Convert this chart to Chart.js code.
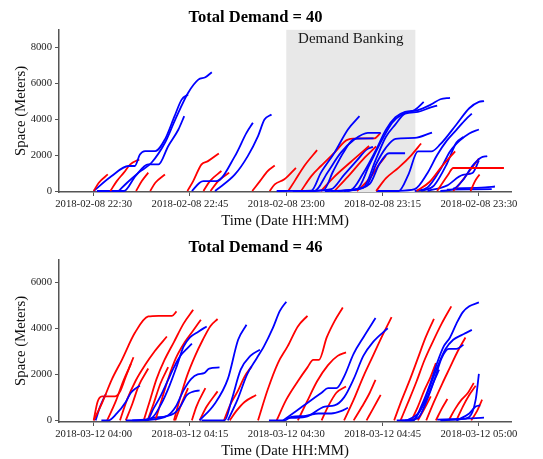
<!DOCTYPE html>
<html>
<head>
<meta charset="utf-8">
<script src="https://cdn.jsdelivr.net/npm/chart.js@4.4.1/dist/chart.umd.min.js"></script>
<style>
  html, body { margin: 0; padding: 0; background: #fff; }
  #wrap { position: relative; width: 543px; height: 459px; overflow: hidden; }
  canvas { position: absolute; left: 0; }
  #topChart { top: 0; }
  #botChart { top: 230px; }
</style>
</head>
<body>
<div id="wrap">
  <canvas id="topChart" width="543" height="229"></canvas>
  <canvas id="botChart" width="543" height="229"></canvas>
</div>
<script>
// ─── DATA ─────────────────────────────────────────────────────────────────────
// x = minutes after first tick, y = space in meters
const xTickValues = [0, 15, 30, 45, 60];
const topTickLabels = ['2018-02-08 22:30', '2018-02-08 22:45', '2018-02-08 23:00', '2018-02-08 23:15', '2018-02-08 23:30'];
const botTickLabels = ['2018-03-12 04:00', '2018-03-12 04:15', '2018-03-12 04:30', '2018-03-12 04:45', '2018-03-12 05:00'];
const topYTicks = [0, 2000, 4000, 6000, 8000];
const botYTicks = [0, 2000, 4000, 6000];
const bankingWindow = [30, 50.1];   // 23:00 – 23:20

const topRedRuns = [
  [[0,0],[0.8,460],[2.2,920]],
  [[2.6,0],[3.6,550],[4.7,1020],[5.7,1480],[7.1,1760]],
  [[6.6,0],[7.5,550],[8.5,1020]],
  [[8.8,0],[9.6,460],[11.1,920]],
  [[14.6,0],[15.5,550],[16.8,1480],[17.8,1660],[19.5,2090]],
  [[17.1,0],[18.1,550],[19.9,1110]],
  [[18.2,0],[19.4,550],[21.1,1020]],
  [[24.7,0],[25.9,550],[27.1,1110],[28.2,1420]],
  [[27.4,0],[28.2,370],[29.7,650],[31.5,1290]],
  [[30.3,0],[31.3,550],[32.8,1390],[34.8,2270]],
  [[32.3,0],[33.9,830],[35.4,1390],[37.5,2130],[39.6,2860],[41.6,2920],[43.7,2920],[44.7,3230]],
  [[35.4,0],[37.5,800],[40.0,1600],[42.9,2500]],
  [[37.5,0],[39.6,800],[42.2,1850],[44.0,2480]],
  [[44,0],[45.5,700],[47.5,1300],[49.5,2000],[51,2640]],
  [[41,0],[43,700],[44.5,1500],[45.5,1950]],
  [[50.3,0],[52.3,500],[54.3,1400],[56.3,2200]],
  [[53.5,0],[55.2,900],[56,1280],[63.9,1280]],
  [[58.7,0],[59.4,550],[60.1,920]],
  [[56,0],[57,400],[58.5,1100],[60,1800]],
];

const topBlueRuns = [
  [[0,0],[2.8,830],[5.4,1390],[6.4,1390],[7.2,2030],[8.0,2220],[9.6,2220],[11.1,2870],[12.6,4160],[13.7,5080],[14.7,5360]],
  [[0.5,0],[4.7,0],[6.5,830],[8.5,1480],[10.1,1480],[11.6,2490],[13.2,3420],[14.1,4160]],
  [[3.9,0],[5.2,460],[7.0,1020],[9.0,1570],[11.1,2680],[12.7,3970],[14.7,5450],[16.3,6190],[17.4,6320],[18.4,6600]],
  [[15.3,0],[16.5,460],[17.1,550],[19.1,550],[22.0,1940],[23.8,3230],[24.8,3790]],
  [[18.9,0],[22.0,920],[24.0,1940],[25.6,3050],[26.6,3970],[27.7,4250]],
  [[28.5,0],[33.9,20],[35.4,1020],[37.5,2130],[39.6,3420],[41.4,4160]],
  [[31,0],[34.4,0],[36.4,1020],[38.5,2130],[40.6,2860],[42.7,3230],[44.7,3230]],
  [[33,0],[35.8,50],[37.3,1100],[39.0,2200],[40.6,2900],[43.6,2920]],
  [[36,0],[40,50],[42,1000],[44,2300],[45.5,3400],[47,4100],[48.5,4400],[50.5,4500],[52.5,4800],[54,5100],[55.5,5180]],
  [[37,0],[41,100],[43,1500],[45,2900],[46.5,3800],[48,4250],[50,4500],[51.4,4950]],
  [[38,0],[42,200],[44,1800],[45.5,3000],[47,3700],[48.5,4300],[50.5,4400],[52.5,4650],[53.5,4750]],
  [[39,0],[42.5,300],[44,1500],[45.5,2400],[47,2900],[50,2950],[52.7,3250]],
  [[39.5,0],[43,400],[44.5,1500],[46,2100],[48.5,2100]],
  [[44,0],[47.5,0],[49,900],[50.5,2200],[52.6,2200],[54,2600],[56.5,3700],[58.5,4600],[60,4950],[60.8,5000]],
  [[47,0],[50,100],[52,1000],[53.5,2000],[55,2800],[56.5,3400],[58,4000],[58.9,4300]],
  [[50,0],[52,200],[54,1200],[55.5,2200],[57,2800],[58.5,3200],[60,3420]],
  [[51,0],[53,300],[55,1500],[56.5,2700],[57.6,3000]],
  [[54,0],[56,100],[57.5,600],[59,1400],[60.3,1850],[61.3,1940]],
  [[55,80],[62,100]],
  [[52,0],[55,300],[57.5,900],[59,1000],[60,1700]],
  [[34,0],[37,100],[39,900],[41,1700],[42.5,2300],[43.5,2450]],
  [[56,150],[61,200],[62.5,250]],
];

const botRedRuns = [
  [[0,0],[1.3,750],[2.8,1760],[4.4,2630],[6.4,3790],[8.5,4510],[10.1,4540],[12.2,4540],[12.9,4730]],
  [[0,0],[0.6,800],[1.3,1040],[3.3,1040],[4.1,1250],[5.0,1900],[6.2,2740]],
  [[2.1,0],[3.4,800],[4.6,1700],[5.8,2450]],
  [[4.1,0],[5.2,900],[6.5,1700],[8.0,2400],[9.5,3000],[11.4,3640]],
  [[7.8,0],[8.8,900],[9.8,1800],[11,2600],[12.5,3400],[14,4200],[15.5,4800]],
  [[9.6,0],[10.6,900],[11.6,1800],[12.8,2700],[14.2,3400],[15.5,3900],[16.7,4370]],
  [[12.5,0],[13.5,1000],[14.5,1900],[15.8,2800],[17,3500],[18.2,4100],[19.3,4400]],
  [[8.4,0],[9.3,700],[10.4,1600],[11.6,2310]],
  [[5.0,0],[6.0,700],[7.0,1500],[8.5,2250]],
  [[12.7,0],[13.5,600],[14.7,1400]],
  [[15.3,0],[16.0,600],[17.4,1400]],
  [[16.5,0],[17.6,600],[19.3,1260]],
  [[20.3,0],[21.3,700],[22.5,1300],[23.5,1900],[24.6,2340]],
  [[21.2,0],[22.2,400],[23.5,800],[25.3,1100]],
  [[25.6,0],[27.1,1330],[28.7,2490],[30.2,3210],[31.8,4080],[33.3,4540]],
  [[28.5,0],[30,900],[31.8,1700],[33.3,2300],[34.2,2630],[35.1,2630],[36.3,3600],[37.5,4300],[38.8,4900]],
  [[31.8,0],[33.2,800],[34.8,1700],[36.5,2400],[38,2800],[39.3,2950]],
  [[35.5,0],[36.5,600],[37.8,1200],[39.3,1470]],
  [[40.5,0],[41.8,600],[43,1200],[43.9,1760]],
  [[42.5,0],[43.5,500],[44.7,1110]],
  [[39,0],[40.5,900],[42,1900],[43.5,2800],[45,3700],[46.4,4480]],
  [[46.8,0],[48,900],[49.3,1800],[50.5,2700],[51.7,3600],[53,4410]],
  [[47.8,0],[49,800],[50.3,1700],[51.5,2600],[52.8,3400],[54.2,4200],[55.7,4950]],
  [[51.8,0],[53,800],[54.3,1600],[55.5,2300],[56.7,3000],[57.9,3600]],
  [[49.5,0],[50.5,600],[51.5,1300],[52.5,1900],[53.3,2490]],
  [[50.5,0],[51.5,500],[52.5,1040]],
  [[53.3,0],[54.2,500],[55.1,925]],
  [[55.3,0],[56.3,500],[57.3,900],[58.3,1200],[59.2,1620]],
  [[58.8,0],[59.7,400],[60.5,900]],
  [[56.5,0],[57.5,600],[58.5,1100],[59.5,1500]],
];

const botBlueRuns = [
  [[0.3,0],[1.0,600],[1.9,1150]],
  [[1.2,0],[2.3,0],[3.6,300],[5.0,800],[5.8,1200],[6.6,1400],[7.2,1500]],
  [[5.0,0],[8.3,10],[9.3,500],[10.5,1100],[11.5,1700],[12.5,2300],[13.5,2800],[14.5,3100],[15.3,3330]],
  [[6,0],[9,100],[10.5,700],[11.8,1500],[13,2400],[14,3200],[15,3600],[16.3,3850],[17.6,4080]],
  [[8,0],[11.5,200],[12.8,600],[14,1300],[15.2,1800],[16.2,2000],[17.2,2050],[18,2250],[19.6,2300]],
  [[9,100],[12.5,300],[13.5,600],[14.5,1100],[15.5,1250],[16.5,1300]],
  [[16.5,0],[18.8,700],[20.9,1800],[22.5,3500],[23.8,4150]],
  [[16.8,0],[20.4,0],[21.5,900],[22.9,2200],[24.4,2800],[25.9,3070]],
  [[20.9,0],[22.4,900],[23.9,2000],[25.4,2700],[26.5,3200],[27.9,4000],[29.0,4750],[30.0,5150]],
  [[27.3,0],[29.7,0],[30.8,150],[33,200],[35,300],[37,300],[38.5,400],[39.6,550]],
  [[29.5,0],[31.5,400],[33.5,800],[35.5,1200],[36.5,1400],[37.8,1400],[39,1900],[40.5,2900],[42,3600],[43.9,4440]],
  [[30,100],[33,150],[36,600],[37.5,650],[39,1000],[40.5,1800],[42,2800],[43.5,3400],[45.8,4000]],
  [[47.2,0],[49.8,0],[51.0,600],[52.3,1500],[53.5,2500],[54.5,3200],[55.5,3600],[56.5,4200],[57.5,4700],[58.5,4950],[60,5120]],
  [[48,0],[49.5,0],[50.8,400],[52,1200],[53.5,2300],[54.8,3100],[56,3500],[57.3,3700],[58,3800],[58.9,3930]],
  [[48.5,0],[50.5,100],[51.8,800],[53,1700],[54.2,2700],[55.3,3100],[56.5,3100],[57.6,3280]],
  [[48.8,0],[50.5,300],[51.8,900],[53.0,1700],[53.8,2200]],
  [[54,0],[57,50],[58.5,150],[59.5,900],[60,2020]],
  [[53.5,30],[57,60],[60.8,120]],
  [[56.5,0],[58.5,300],[59.5,600],[60.2,650]],
];

// ─── STYLE ────────────────────────────────────────────────────────────────────
const SERIF = "'Liberation Serif', 'DejaVu Serif', serif";
const AXIS_COLOR = '#555';

// ─── BANKING BAND PLUGIN ──────────────────────────────────────────────────────
const bandPlugin = {
  id: 'band',
  beforeDatasetsDraw(chart, args, opts) {
    if (!opts.range) return;
    const { ctx, chartArea: a, scales: { x } } = chart;
    const x0 = x.getPixelForValue(opts.range[0]);
    const x1 = x.getPixelForValue(opts.range[1]);
    ctx.save();
    ctx.fillStyle = '#e8e8e8';
    ctx.fillRect(x0, a.top, x1 - x0, a.bottom - a.top);
    ctx.fillStyle = '#1a1a1a';
    ctx.font = `15px ${SERIF}`;
    ctx.textAlign = 'center';
    ctx.textBaseline = 'middle';
    ctx.fillText(opts.label, (x0 + x1) / 2, a.top + 9);
    ctx.restore();
  },
};

function toDatasets(runs, color) {
  return runs.map(run => ({
    data: run.map(([x, y]) => ({ x, y })),
    borderColor: color,
    borderWidth: 1.8,
    pointRadius: 0,
    fill: false,
    cubicInterpolationMode: 'monotone',
  }));
}

function makeChart(id, title, tickLabels, yTicks, yMin, yMax, redRuns, blueRuns, band) {
  const datasets = [];
  // interleave so neither colour sits entirely on top
  const n = Math.max(redRuns.length, blueRuns.length);
  const reds = toDatasets(redRuns, '#ff0000');
  const blues = toDatasets(blueRuns, '#0000ff');
  for (let i = 0; i < n; i++) {
    if (reds[i]) datasets.push(reds[i]);
    if (blues[i]) datasets.push(blues[i]);
  }

  return new Chart(document.getElementById(id), {
    type: 'line',
    data: { datasets },
    options: {
      responsive: false,
      animation: false,
      layout: { padding: { left: 0, right: 32, top: 0, bottom: 0 } },
      plugins: {
        legend: { display: false },
        tooltip: { enabled: false },
        title: {
          display: true,
          text: title,
          color: '#000',
          font: { family: SERIF, size: 16.5, weight: 'bold', lineHeight: 1.2 },
          padding: { top: 8, bottom: 2 },
        },
        band: band ? { range: bankingWindow, label: 'Demand Banking' } : {},
      },
      scales: {
        x: {
          type: 'linear',
          min: -5.4,
          max: 65.0,
          afterBuildTicks: s => { s.ticks = xTickValues.map(v => ({ value: v })); },
          afterFit: s => { s.height = 37; },
          grid: { drawOnChartArea: false, drawTicks: true, tickLength: 4, color: AXIS_COLOR },
          border: { display: true, color: AXIS_COLOR, width: 1.5 },
          ticks: {
            autoSkip: false,
            maxRotation: 0,
            padding: 2,
            color: '#222',
            font: { family: SERIF, size: 10.7 },
            callback: v => tickLabels[xTickValues.indexOf(v)],
          },
          title: {
            display: true,
            text: 'Time (Date HH:MM)',
            color: '#111',
            font: { family: SERIF, size: 14.8, lineHeight: 1 },
            padding: { top: 0, bottom: 0 },
          },
        },
        y: {
          type: 'linear',
          min: yMin,
          max: yMax,
          afterBuildTicks: s => { s.ticks = yTicks.map(v => ({ value: v })); },
          afterFit: s => { s.width = 59; },
          grid: { drawOnChartArea: false, drawTicks: true, tickLength: 4, color: AXIS_COLOR },
          border: { display: true, color: AXIS_COLOR, width: 1.5 },
          ticks: {
            padding: 3,
            color: '#222',
            font: { family: SERIF, size: 10.7 },
            callback: v => String(v),
          },
          title: {
            display: true,
            text: 'Space (Meters)',
            color: '#111',
            font: { family: SERIF, size: 14.8, lineHeight: 1 },
            padding: { top: 14, bottom: 0 },
          },
        },
      },
    },
    plugins: [bandPlugin],
  });
}

makeChart('topChart', 'Total Demand = 40', topTickLabels, topYTicks, -55, 8960, topRedRuns, topBlueRuns, true);
makeChart('botChart', 'Total Demand = 46', botTickLabels, botYTicks, -70, 6970, botRedRuns, botBlueRuns, false);
</script>
</body>
</html>
